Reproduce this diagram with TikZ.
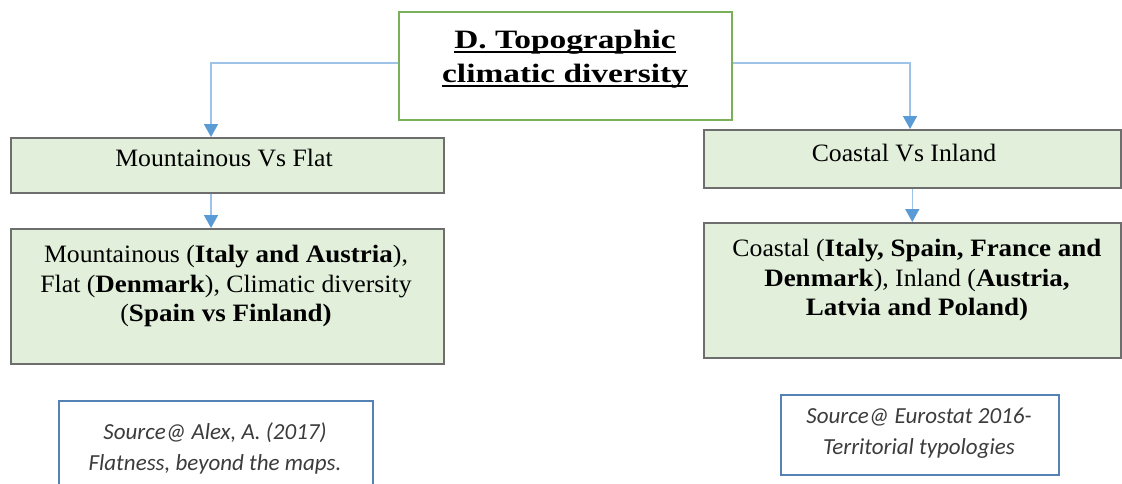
\documentclass[tikz,border=0pt]{standalone}
\usepackage{fontspec}
\setmainfont{Liberation Serif}[FakeStretch=1.03, BoldFeatures={FakeStretch=1.08}]
\newfontfamily\titlefont{Liberation Serif}[BoldFeatures={FakeStretch=1.26}]
\newfontfamily\srcfont{Carlito}
\usetikzlibrary{arrows.meta,calc}
% heading underline with a chosen rule thickness and depth
\newlength\hdulwd
\newcommand\hdul[1]{\settowidth\hdulwd{#1}\rlap{\rule[-4.5pt]{\hdulwd}{1.7pt}}#1}
\definecolor{titlegreen}{RGB}{122,176,90}
\definecolor{boxfill}{RGB}{226,239,218}
\definecolor{boxline}{RGB}{110,110,110}
\definecolor{linkline}{RGB}{157,195,230}
\definecolor{linktip}{RGB}{91,155,213}
\definecolor{srcline}{RGB}{84,130,180}
\definecolor{srctext}{RGB}{60,60,60}
\tikzset{
  titlebox/.style={draw=titlegreen, line width=2pt, fill=white, anchor=north west, inner sep=0pt},
  greenbox/.style={draw=boxline, line width=1.6pt, fill=boxfill, anchor=north west, inner sep=0pt},
  srcbox/.style={draw=srcline, line width=2pt, fill=white, anchor=north west, inner sep=0pt},
  link/.style={draw=linkline, line width=1.5pt, -{Triangle[color=linktip, width=14pt, length=13pt]}},
  titletext/.style={font=\titlefont\bfseries\fontsize{26.5}{34}\selectfont, align=center, inner sep=0pt},
  bodytext/.style={font=\fontsize{25}{29.5}\selectfont, align=center, inner sep=0pt},
  srctextstyle/.style={font=\srcfont\fontsize{23}{31}\selectfont\itshape, text=srctext, align=center, inner sep=0pt},
}
\begin{document}
\begin{tikzpicture}[x=1pt, y=-1pt]
\useasboundingbox (0,0) rectangle (1122,483);

% heading box
\node[titlebox, minimum width=333pt, minimum height=108pt] (head) at (398,11) {};
\node[titletext] (headtxt) at (565,59) {\hdul{D. Topographic}\\\hdul{climatic diversity}};

% left branch
\node[greenbox, minimum width=433pt, minimum height=55pt] (mvf) at (10,137) {};
\node[bodytext] (mvftxt) at (224,158) {Mountainous Vs Flat};
\node[greenbox, minimum width=433pt, minimum height=135pt] (mdet) at (10,228) {};
\node[bodytext] (mdettxt) at (226,286) {Mountainous (\textbf{Italy and Austria}),\\Flat (\textbf{Denmark}), Climatic diversity\\(\textbf{Spain vs Finland)}};
\node[srcbox, minimum width=314pt, minimum height=100pt] (src1) at (58,400) {};
\node[srctextstyle] (src1txt) at (215,448) {Source@ Alex, A. (2017)\\Flatness, beyond the maps.};

% right branch
\node[greenbox, minimum width=417pt, minimum height=58pt] (cvi) at (703,129) {};
\node[bodytext] (cvitxt) at (904,153) {Coastal Vs Inland};
\node[greenbox, minimum width=417pt, minimum height=135pt] (cdet) at (703,222) {};
\node[bodytext] (cdettxt) at (917,280) {Coastal (\textbf{Italy, Spain, France and}\\\textbf{Denmark}), Inland (\textbf{Austria,}\\\textbf{Latvia and Poland)}};
\node[srcbox, minimum width=278pt, minimum height=80pt] (src2) at (780,394) {};
\node[srctextstyle] (src2txt) at (919,433) {Source@ Eurostat 2016-\\Territorial typologies};

% connectors
\coordinate (lbend) at (211,63);
\coordinate (rbend) at (910,63);
\draw[link] (head.west |- lbend) -- (lbend) -- (lbend |- mvf.north);
\draw[link] (head.east |- rbend) -- (rbend) -- (rbend |- cvi.north);
\draw[link] (lbend |- mvf.south) -- (lbend |- mdet.north);
\draw[link] (cvi.south) -- (cdet.north);
\end{tikzpicture}
\end{document}
